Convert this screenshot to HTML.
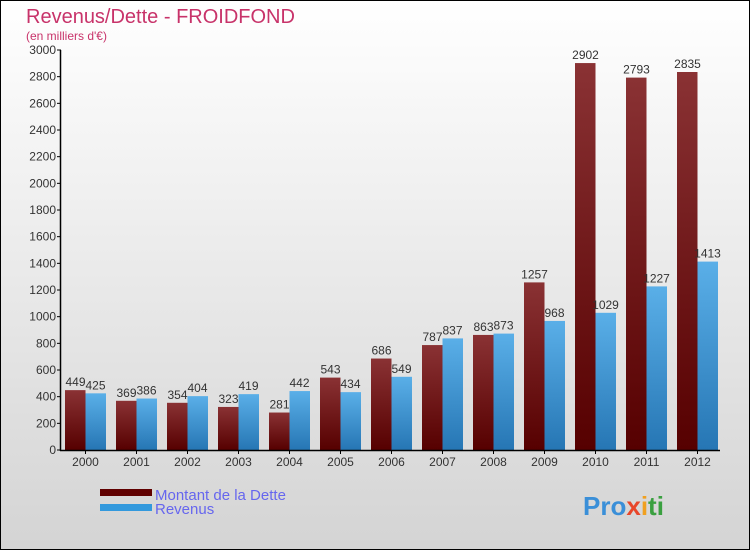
<!DOCTYPE html>
<html><head><meta charset="utf-8"><style>
body{margin:0;}
#c{position:relative;width:748px;height:548px;border:1px solid #000;background:linear-gradient(#ffffff,#d4d4d4);font-family:"Liberation Sans",sans-serif;overflow:hidden;}
</style></head><body>
<div id="c">
<svg width="748" height="548" viewBox="1 1 748 548" id="svg">
<defs>
<linearGradient id="gd" x1="0" y1="0" x2="0" y2="1"><stop offset="0" stop-color="#8a3234"/><stop offset="1" stop-color="#560000"/></linearGradient>
<linearGradient id="gr" x1="0" y1="0" x2="0" y2="1"><stop offset="0" stop-color="#5aafe8"/><stop offset="1" stop-color="#2676b4"/></linearGradient>
</defs>
<text x="26" y="23" font-size="20" fill="#c8336a">Revenus/Dette - FROIDFOND</text>
<text x="26" y="40" font-size="12" fill="#c8336a">(en milliers d'€)</text>
<g id="bars"></g>
<g id="axes"></g>
<rect x="100" y="489" width="52" height="7" fill="#600000"/>
<text x="155" y="500" font-size="15" fill="#6666ee">Montant de la Dette</text>
<rect x="100" y="504" width="52" height="7" fill="#3399dd"/>
<text x="155" y="514" font-size="15" fill="#6666ee">Revenus</text>
<text x="583" y="515" font-size="26" font-weight="bold"><tspan fill="#3a8fd8">Pro</tspan><tspan fill="#e8462a">x</tspan><tspan fill="#f0a020">i</tspan><tspan fill="#3aa040">ti</tspan></text>
</svg>
</div>
<script>
const years=["2000","2001","2002","2003","2004","2005","2006","2007","2008","2009","2010","2011","2012"];
const dette=[449,369,354,323,281,543,686,787,863,1257,2902,2793,2835];
const revenus=[425,386,404,419,442,434,549,837,873,968,1029,1227,1413];
const ticks=[0,200,400,600,800,1000,1200,1400,1600,1800,2000,2200,2400,2600,2800,3000];
const NS="http://www.w3.org/2000/svg";
const y=v=>450-v*400/3000;
const xc=i=>85.5+i*51;
function mk(t,a,p){const e=document.createElementNS(NS,t);for(const k in a)e.setAttribute(k,a[k]);p.appendChild(e);return e;}
const bars=document.getElementById('bars'),axes=document.getElementById('axes');
years.forEach((yr,i)=>{
 const c=xc(i);
 const d=mk('rect',{x:c-20.5,y:y(dette[i]),width:20.5,height:450-y(dette[i]),fill:'url(#gd)'},bars);
 
 
 const r=mk('rect',{x:c,y:y(revenus[i]),width:20.5,height:450-y(revenus[i]),fill:'url(#gr)'},bars);
 
 
 const t1=mk('text',{x:c-10,y:y(dette[i])-4,'font-size':12,fill:'#333','text-anchor':'middle'},bars);t1.textContent=dette[i];
 
 
 const t2=mk('text',{x:c+10,y:y(revenus[i])-4,'font-size':12,fill:'#333','text-anchor':'middle'},bars);t2.textContent=revenus[i];
 
 
 const xl=mk('text',{x:c,y:466,'font-size':12,fill:'#333','text-anchor':'middle'},axes);xl.textContent=yr;
 
 
 mk('line',{x1:c,x2:c,y1:450,y2:454,stroke:'#000'},axes);
});
ticks.forEach(v=>{
 mk('line',{x1:57,x2:61,y1:y(v),y2:y(v),stroke:'#000'},axes);
 const t=mk('text',{x:56,y:y(v)+4,'font-size':12,fill:'#333','text-anchor':'end'},axes);t.textContent=v;
 
 
});
const ya=mk('line',{x1:60.5,x2:60.5,y1:50,y2:451,stroke:'#000','stroke-width':1.5},axes);


const xa=mk('line',{x1:60,x2:720,y1:450.5,y2:450.5,stroke:'#000','stroke-width':1.5},axes);


</script>
</body></html>
